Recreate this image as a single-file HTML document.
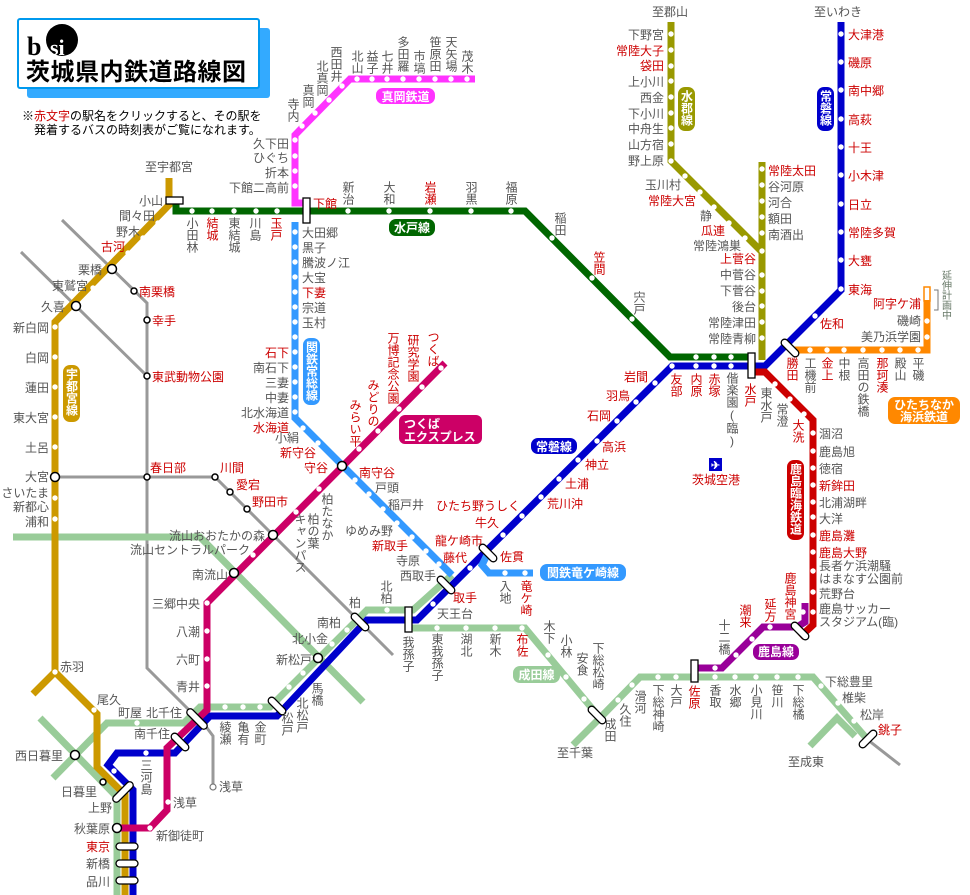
<!DOCTYPE html>
<html><head><meta charset="utf-8">
<style>
html,body{margin:0;padding:0;background:#fff;}
svg{display:block;}
text{font-family:"Liberation Sans","Noto Sans CJK JP",sans-serif;font-size:12px;fill:#555;}
.r{fill:#cc0000;}
.k{fill:#000;}
.v{writing-mode:vertical-rl;text-orientation:upright;}
.e{text-anchor:end;}
.m{text-anchor:middle;}
.w{fill:#fff;font-weight:bold;}
.ln{fill:none;stroke-width:7;stroke-linejoin:miter;}
.tr{fill:#fff;stroke:#000;stroke-width:1.3;}
.c{fill:#fff;stroke:#000;stroke-width:1.5;}
.cg{fill:#fff;stroke:#777;stroke-width:1.2;}
.d{fill:#fff;}
</style></head><body>
<svg width="970" height="895" viewBox="0 0 970 895" xmlns="http://www.w3.org/2000/svg">
<!-- title -->
<rect x="27" y="28" width="243" height="70" rx="3" fill="#33aaff"/>
<rect x="18" y="19" width="241" height="69" rx="2" fill="#fff" stroke="#0099ee" stroke-width="2"/>
<text x="27" y="55" class="k" style="font-family:'Liberation Serif',serif;font-size:26px;font-weight:bold">b</text>
<circle cx="62" cy="40" r="16" fill="#000"/>
<text x="50" y="55" style="font-family:'Liberation Serif',serif;font-size:22px;font-weight:bold;fill:#fff">si</text>
<text x="26" y="80" class="k" style="font-size:24px;font-weight:bold;letter-spacing:0.5px">茨城県内鉄道路線図</text>
<text x="22" y="120" class="k" style="font-size:12px">※<tspan class="r">赤文字</tspan>の駅名をクリックすると、その駅を</text>
<text x="34" y="134" class="k" style="font-size:12px">発着するバスの時刻表がご覧になれます。</text>

<!-- gray Tobu lines -->
<g fill="none" stroke="#999" stroke-width="3">
<path d="M62,220 L147,303 L147,668 L207,728 L213,736 L213,787"/>
<path d="M21,252 L147,376"/>
<path d="M55,477 L215,477 L393,655"/>
<path d="M868,740 L900,765"/>
</g>
<!-- light green lines -->
<g class="ln" stroke="#99cc99">
<path d="M13,537 L200,537 L363,702"/>
<path d="M452,575 L413,610 L367,610 L270,707 L200,707 L184,723 L107,723 L53,778"/>
<path d="M40,718 L117,797 L117,895"/>
<path d="M408,628 L525,628 L600,718 L573,745"/>
<path d="M600,718 L640,677 L813,677 L868,740"/>
<path d="M810,746 L837,718 L855,736"/>
</g>
<!-- Utsunomiya -->
<g class="ln" stroke="#cc9900">
<path d="M169,178 L169,205 L55,322 L55,672 L97,714 L97,767 L125,795 L125,895"/>
<path d="M55,672 L33,694"/>
</g>
<!-- Joban -->
<path class="ln" stroke="#0000cc" d="M133,895 L133,790 L108,765 L117,753 L175,753 L210,716 L277,716 L367,620 L417,620 L672,366 L765,366 L841,290 L841,22"/>
<!-- Mito -->
<path class="ln" stroke="#006600" d="M176,200 L176,211 L525,211 L670,357 L752,357"/>
<!-- Suigun -->
<g class="ln" stroke="#999900">
<path d="M671,22 L671,161 L762,252"/>
<path d="M762,162 L762,360"/>
</g>
<!-- Moka -->
<path class="ln" stroke="#ff33ff" d="M307,203 L295,203 L295,135 L350,79 L475,79"/>
<!-- Joso -->
<path class="ln" stroke="#3399ff" d="M295,222 L295,418 L452,575"/>
<path class="ln" stroke="#3399ff" d="M488,553 L482,565 L489,573 L533,573"/>
<!-- TX -->
<path class="ln" stroke="#cc0066" d="M445,363 L207,603 L207,710 L167,748 L167,810 L150,828 L117,828"/>
<!-- Kashima rinkai -->
<path class="ln" stroke="#cc0000" d="M752,372 L765,372 L813,420 L813,625 L800,637"/>
<!-- Kashima line -->
<path class="ln" stroke="#990099" d="M805,603 L805,622 L797,627 L763,627 L722,668 L694,668"/>
<!-- Hitachinaka -->
<path class="ln" stroke="#ff8800" d="M790,350 L927,350 L927,300"/>
<rect x="924" y="287" width="6" height="14" fill="none" stroke="#ff8800" stroke-width="1.5"/>
<path d="M934,290 L938,290 L938,310 L934,310" fill="none" stroke="#777" stroke-width="1"/>

<!-- dots -->
<g class="d">
<circle cx="192" cy="211" r="2.7"/><circle cx="212" cy="211" r="2.7"/><circle cx="234" cy="211" r="2.7"/><circle cx="256" cy="211" r="2.7"/><circle cx="277" cy="211" r="2.7"/>
<circle cx="348" cy="211" r="2.7"/><circle cx="389" cy="211" r="2.7"/><circle cx="430" cy="211" r="2.7"/><circle cx="471" cy="211" r="2.7"/><circle cx="511" cy="211" r="2.7"/>
<circle cx="552" cy="238" r="2.7"/><circle cx="592" cy="278" r="2.7"/><circle cx="632" cy="319" r="2.7"/>
<circle cx="696" cy="357" r="2.7"/><circle cx="714" cy="357" r="2.7"/><circle cx="731" cy="357" r="2.7"/>
<circle cx="672" cy="366" r="2.7"/><circle cx="696" cy="366" r="2.7"/><circle cx="714" cy="366" r="2.7"/><circle cx="731" cy="366" r="2.7"/>
<circle cx="841" cy="34" r="2.7"/><circle cx="841" cy="62" r="2.7"/><circle cx="841" cy="90" r="2.7"/><circle cx="841" cy="119" r="2.7"/><circle cx="841" cy="147" r="2.7"/><circle cx="841" cy="175" r="2.7"/><circle cx="841" cy="204" r="2.7"/><circle cx="841" cy="232" r="2.7"/><circle cx="841" cy="260" r="2.7"/><circle cx="841" cy="289" r="2.7"/><circle cx="815" cy="316" r="2.7"/>
<circle cx="655" cy="383" r="2.7"/><circle cx="636" cy="402" r="2.7"/><circle cx="617" cy="421" r="2.7"/><circle cx="597" cy="441" r="2.7"/><circle cx="578" cy="460" r="2.7"/><circle cx="559" cy="479" r="2.7"/><circle cx="541" cy="497" r="2.7"/><circle cx="522" cy="516" r="2.7"/><circle cx="503" cy="535" r="2.7"/><circle cx="470" cy="568" r="2.7"/><circle cx="433" cy="604" r="2.7"/>
<circle cx="146" cy="753" r="2.7"/><circle cx="114" cy="771" r="2.7"/>
<circle cx="671" cy="34" r="2.7"/><circle cx="671" cy="50" r="2.7"/><circle cx="671" cy="66" r="2.7"/><circle cx="671" cy="81" r="2.7"/><circle cx="671" cy="97" r="2.7"/><circle cx="671" cy="113" r="2.7"/><circle cx="671" cy="128" r="2.7"/><circle cx="671" cy="144" r="2.7"/><circle cx="671" cy="161" r="2.7"/>
<circle cx="685" cy="176" r="2.7"/><circle cx="700" cy="192" r="2.7"/><circle cx="714" cy="207" r="2.7"/><circle cx="729" cy="223" r="2.7"/><circle cx="745" cy="238" r="2.7"/>
<circle cx="762" cy="169" r="2.7"/><circle cx="762" cy="185" r="2.7"/><circle cx="762" cy="201" r="2.7"/><circle cx="762" cy="217" r="2.7"/><circle cx="762" cy="233" r="2.7"/><circle cx="762" cy="251" r="2.7"/><circle cx="762" cy="275" r="2.7"/><circle cx="762" cy="291" r="2.7"/><circle cx="762" cy="306" r="2.7"/><circle cx="762" cy="322" r="2.7"/><circle cx="762" cy="338" r="2.7"/>
<circle cx="295" cy="140" r="2.7"/><circle cx="295" cy="156" r="2.7"/><circle cx="295" cy="171" r="2.7"/><circle cx="295" cy="186" r="2.7"/>
<circle cx="302" cy="126" r="2.7"/><circle cx="315" cy="113" r="2.7"/><circle cx="329" cy="100" r="2.7"/><circle cx="342" cy="86" r="2.7"/>
<circle cx="357" cy="79" r="2.7"/><circle cx="372" cy="79" r="2.7"/><circle cx="387" cy="79" r="2.7"/><circle cx="403" cy="79" r="2.7"/><circle cx="419" cy="79" r="2.7"/><circle cx="435" cy="79" r="2.7"/><circle cx="451" cy="79" r="2.7"/><circle cx="467" cy="79" r="2.7"/>
<circle cx="295" cy="232" r="2.7"/><circle cx="295" cy="247" r="2.7"/><circle cx="295" cy="262" r="2.7"/><circle cx="295" cy="277" r="2.7"/><circle cx="295" cy="292" r="2.7"/><circle cx="295" cy="307" r="2.7"/><circle cx="295" cy="322" r="2.7"/><circle cx="295" cy="337" r="2.7"/><circle cx="295" cy="352" r="2.7"/><circle cx="295" cy="367" r="2.7"/><circle cx="295" cy="382" r="2.7"/><circle cx="295" cy="397" r="2.7"/><circle cx="295" cy="412" r="2.7"/>
<circle cx="303" cy="428" r="2.7"/><circle cx="318" cy="443" r="2.7"/><circle cx="355" cy="480" r="2.7"/><circle cx="369" cy="494" r="2.7"/><circle cx="383" cy="509" r="2.7"/><circle cx="397" cy="523" r="2.7"/><circle cx="412" cy="537" r="2.7"/><circle cx="426" cy="551" r="2.7"/><circle cx="439" cy="564" r="2.7"/>
<circle cx="505" cy="573" r="2.7"/><circle cx="525" cy="573" r="2.7"/>
<circle cx="441" cy="368" r="2.7"/><circle cx="422" cy="387" r="2.7"/><circle cx="399" cy="409" r="2.7"/><circle cx="378" cy="431" r="2.7"/><circle cx="359" cy="449" r="2.7"/><circle cx="319" cy="489" r="2.7"/><circle cx="296" cy="512" r="2.7"/><circle cx="253" cy="555" r="2.7"/>
<circle cx="207" cy="603" r="2.7"/><circle cx="207" cy="631" r="2.7"/><circle cx="207" cy="659" r="2.7"/><circle cx="207" cy="686" r="2.7"/><circle cx="168" cy="802" r="2.7"/><circle cx="150" cy="828" r="2.7"/>
<circle cx="158" cy="223" r="2.7"/><circle cx="143" cy="238" r="2.7"/><circle cx="128" cy="253" r="2.7"/><circle cx="93" cy="288" r="2.7"/>
<circle cx="55" cy="327" r="2.7"/><circle cx="55" cy="357" r="2.7"/><circle cx="55" cy="387" r="2.7"/><circle cx="55" cy="417" r="2.7"/><circle cx="55" cy="447" r="2.7"/><circle cx="55" cy="498" r="2.7"/><circle cx="55" cy="519" r="2.7"/><circle cx="55" cy="672" r="2.7"/><circle cx="94" cy="710" r="2.7"/>
<circle cx="775" cy="384" r="2.7"/><circle cx="790" cy="399" r="2.7"/><circle cx="804" cy="414" r="2.7"/>
<circle cx="813" cy="433" r="2.7"/><circle cx="813" cy="451" r="2.7"/><circle cx="813" cy="468" r="2.7"/><circle cx="813" cy="485" r="2.7"/><circle cx="813" cy="502" r="2.7"/><circle cx="813" cy="517" r="2.7"/><circle cx="813" cy="535" r="2.7"/><circle cx="813" cy="552" r="2.7"/><circle cx="813" cy="571" r="2.7"/><circle cx="813" cy="592" r="2.7"/><circle cx="813" cy="612" r="2.7"/>
<circle cx="803" cy="612" r="2.7"/><circle cx="770" cy="627" r="2.7"/><circle cx="752" cy="639" r="2.7"/><circle cx="736" cy="655" r="2.7"/><circle cx="715" cy="668" r="2.7"/>
<circle cx="810" cy="350" r="2.7"/><circle cx="827" cy="350" r="2.7"/><circle cx="844" cy="350" r="2.7"/><circle cx="863" cy="350" r="2.7"/><circle cx="882" cy="350" r="2.7"/><circle cx="900" cy="350" r="2.7"/><circle cx="918" cy="350" r="2.7"/><circle cx="927" cy="337" r="2.7"/><circle cx="927" cy="321" r="2.7"/>
<circle cx="387" cy="610" r="2.7"/><circle cx="347" cy="630" r="2.7"/><circle cx="332" cy="644" r="2.7"/><circle cx="303" cy="673" r="2.7"/><circle cx="289" cy="687" r="2.7"/><circle cx="260" cy="707" r="2.7"/><circle cx="243" cy="707" r="2.7"/><circle cx="225" cy="707" r="2.7"/><circle cx="137" cy="723" r="2.7"/>
<circle cx="437" cy="628" r="2.7"/><circle cx="466" cy="628" r="2.7"/><circle cx="495" cy="628" r="2.7"/><circle cx="522" cy="628" r="2.7"/><circle cx="548" cy="655" r="2.7"/><circle cx="566" cy="677" r="2.7"/><circle cx="584" cy="699" r="2.7"/>
<circle cx="618" cy="700" r="2.7"/><circle cx="632" cy="685" r="2.7"/><circle cx="658" cy="677" r="2.7"/><circle cx="676" cy="677" r="2.7"/><circle cx="715" cy="677" r="2.7"/><circle cx="735" cy="677" r="2.7"/><circle cx="756" cy="677" r="2.7"/><circle cx="777" cy="677" r="2.7"/><circle cx="798" cy="677" r="2.7"/>
<circle cx="821" cy="686" r="2.7"/><circle cx="838" cy="703" r="2.7"/><circle cx="854" cy="721" r="2.7"/>
</g>

<!-- transfer markers -->
<rect x="166" y="197" width="17" height="7" class="tr"/>
<rect x="303" y="198" width="7" height="25" class="tr"/>
<rect x="748" y="353" width="7" height="25" class="tr"/>
<rect x="405" y="607" width="7" height="25" class="tr"/>
<rect x="691" y="660" width="7" height="22" class="tr"/>
<g class="tr">
<rect x="-11" y="-3.5" width="22" height="7" rx="3.5" transform="translate(790,348) rotate(45)"/>
<rect x="-11" y="-3.5" width="22" height="7" rx="3.5" transform="translate(800,631) rotate(45)"/>
<rect x="-11" y="-3.5" width="22" height="7" rx="3.5" transform="translate(488,553) rotate(45)"/>
<rect x="-11" y="-3.5" width="22" height="7" rx="3.5" transform="translate(446,585) rotate(45)"/>
<rect x="-11" y="-3.5" width="22" height="7" rx="3.5" transform="translate(360,622) rotate(45)"/>
<rect x="-11" y="-3.5" width="22" height="7" rx="3.5" transform="translate(277,706) rotate(45)"/>
<rect x="-13" y="-3.5" width="26" height="7" rx="3.5" transform="translate(197,719) rotate(45)"/>
<rect x="-11" y="-3.5" width="22" height="7" rx="3.5" transform="translate(180,742) rotate(45)"/>
<rect x="-13" y="-3.5" width="26" height="7" rx="3.5" transform="translate(123,792) rotate(-45)"/>
<rect x="-11" y="-3.5" width="22" height="7" rx="3.5" transform="translate(597,715) rotate(45)"/>
<rect x="-11" y="-3.5" width="22" height="7" rx="3.5" transform="translate(868,739) rotate(-45)"/>
<rect x="116" y="843" width="22" height="7" rx="3.5"/>
<rect x="116" y="860" width="22" height="7" rx="3.5"/>
<rect x="116" y="877" width="22" height="7" rx="3.5"/>
</g>
<circle cx="112" cy="269" r="4.5" class="c"/><circle cx="76" cy="306" r="4.5" class="c"/><circle cx="55" cy="477" r="4.5" class="c"/>
<circle cx="342" cy="466" r="4.5" class="c"/><circle cx="273" cy="535" r="4.5" class="c"/><circle cx="234" cy="573" r="4.5" class="c"/>
<circle cx="318" cy="658" r="4.5" class="c"/><circle cx="75" cy="755" r="4.5" class="c"/><circle cx="117" cy="828" r="4.5" class="c"/>
<circle cx="134" cy="291" r="3" class="c"/><circle cx="147" cy="320" r="3" class="c"/><circle cx="147" cy="376" r="3" class="c"/><circle cx="147" cy="477" r="3" class="c"/><circle cx="215" cy="477" r="3" class="c"/><circle cx="230" cy="492" r="3" class="c"/><circle cx="247" cy="509" r="3" class="c"/><circle cx="103" cy="782" r="3" class="c"/><circle cx="213" cy="787" r="3" class="cg"/>

<!-- badges -->
<rect x="376" y="88" width="59" height="16" rx="7" fill="#ff33ff"/><text x="405.5" y="101" class="w m">真岡鉄道</text>
<rect x="389" y="219" width="46" height="17" rx="7" fill="#006600"/><text x="412" y="232" class="w m">水戸線</text>
<rect x="678" y="87" width="17" height="44" rx="7" fill="#999900"/><text x="686.5" y="90" class="w v">水郡線</text>
<rect x="817" y="87" width="17" height="44" rx="7" fill="#0000cc"/><text x="825.5" y="90" class="w v">常磐線</text>
<rect x="303" y="338" width="17" height="67" rx="7" fill="#3399ff"/><text x="311.5" y="341" class="w v">関鉄常総線</text>
<rect x="63" y="365" width="17" height="57" rx="7" fill="#cc9900"/><text x="71.5" y="368" class="w v">宇都宮線</text>
<rect x="399" y="415" width="83" height="29" rx="6" fill="#cc0066"/><text x="404" y="428" class="w">つくば</text><text x="404" y="441" class="w">エクスプレス</text>
<rect x="531" y="438" width="46" height="16" rx="7" fill="#0000cc"/><text x="554" y="451" class="w m">常磐線</text>
<rect x="540" y="564" width="86" height="17" rx="7" fill="#3399ff"/><text x="583" y="577" class="w m">関鉄竜ケ崎線</text>
<rect x="787" y="460" width="17" height="80" rx="7" fill="#cc0000"/><text x="795.5" y="463" class="w v">鹿島臨海鉄道</text>
<rect x="888" y="397" width="72" height="27" rx="7" fill="#ff8800"/><text x="924" y="409" class="w m">ひたちなか</text><text x="924" y="421" class="w m">海浜鉄道</text>
<rect x="753" y="644" width="46" height="16" rx="7" fill="#990099"/><text x="776" y="656" class="w m">鹿島線</text>
<rect x="513" y="666" width="47" height="17" rx="7" fill="#99cc99"/><text x="536.5" y="679" class="w m">成田線</text>
<rect x="709" y="458" width="13" height="13" fill="#0000cc"/><text x="715.5" y="469" class="w m" style="font-size:11px">✈</text>
<text x="716" y="484" class="r m">茨城空港</text>

<text x="169" y="171" class="m">至宇都宮</text>
<text x="163" y="205" class="e">小山</text>
<text x="155" y="220" class="e">間々田</text>
<text x="140" y="236" class="e">野木</text>
<text x="125" y="251" class="e r">古河</text>
<text x="102" y="274" class="e">栗橋</text>
<text x="88" y="290" class="e">東鷲宮</text>
<text x="65" y="311" class="e">久喜</text>
<text x="139" y="296" class="r">南栗橋</text>
<text x="152" y="325" class="r">幸手</text>
<text x="152" y="381" class="r">東武動物公園</text>
<text x="49" y="332" class="e">新白岡</text>
<text x="49" y="362" class="e">白岡</text>
<text x="49" y="392" class="e">蓮田</text>
<text x="49" y="422" class="e">東大宮</text>
<text x="49" y="452" class="e">土呂</text>
<text x="49" y="481" class="e">大宮</text>
<text x="49" y="497" class="e">さいたま</text>
<text x="49" y="511" class="e">新都心</text>
<text x="49" y="526" class="e">浦和</text>
<text x="150" y="472" class="r">春日部</text>
<text x="220" y="472" class="r">川間</text>
<text x="236" y="489" class="r">愛宕</text>
<text x="252" y="506" class="r">野田市</text>
<text x="265" y="540" class="e">流山おおたかの森</text>
<text x="250" y="554" class="e">流山セントラルパーク</text>
<text x="228" y="579" class="e">南流山</text>
<text x="327" y="493" class="v">柏たなか</text>
<text x="313" y="513" class="v">柏の葉</text>
<text x="300" y="513" class="v">キャンパス</text>
<text x="293" y="98" class="v">寺内</text>
<text x="308" y="84" class="v">真岡</text>
<text x="322" y="60" class="v">北真岡</text>
<text x="336" y="46" class="v">西田井</text>
<text x="357" y="50" class="v">北山</text>
<text x="372" y="50" class="v">益子</text>
<text x="387" y="50" class="v">七井</text>
<text x="403" y="36" class="v">多田羅</text>
<text x="419" y="50" class="v">市塙</text>
<text x="435" y="36" class="v">笹原田</text>
<text x="451" y="36" class="v">天矢場</text>
<text x="467" y="50" class="v">茂木</text>
<text x="289" y="148" class="e">久下田</text>
<text x="289" y="162" class="e">ひぐち</text>
<text x="289" y="177" class="e">折本</text>
<text x="289" y="192" class="e">下館二高前</text>
<text x="313" y="208" class="r">下館</text>
<text x="348" y="181" class="v">新治</text>
<text x="389" y="181" class="v">大和</text>
<text x="430" y="181" class="v r">岩瀬</text>
<text x="471" y="181" class="v">羽黒</text>
<text x="511" y="181" class="v">福原</text>
<text x="560" y="212" class="v">稲田</text>
<text x="599" y="251" class="v r">笠間</text>
<text x="639" y="291" class="v">宍戸</text>
<text x="192" y="217" class="v">小田林</text>
<text x="212" y="217" class="v r">結城</text>
<text x="234" y="217" class="v">東結城</text>
<text x="255" y="217" class="v">川島</text>
<text x="276" y="217" class="v r">玉戸</text>
<text x="302" y="237">大田郷</text>
<text x="302" y="252">黒子</text>
<text x="302" y="267">騰波ノ江</text>
<text x="302" y="282">大宝</text>
<text x="302" y="297" class="r">下妻</text>
<text x="302" y="312">宗道</text>
<text x="302" y="327">玉村</text>
<text x="289" y="357" class="e r">石下</text>
<text x="289" y="372" class="e">南石下</text>
<text x="289" y="387" class="e">三妻</text>
<text x="289" y="402" class="e">中妻</text>
<text x="289" y="417" class="e">北水海道</text>
<text x="289" y="432" class="e r">水海道</text>
<text x="299" y="442" class="e">小絹</text>
<text x="316" y="457" class="e r">新守谷</text>
<text x="328" y="472" class="e r">守谷</text>
<text x="359" y="477" class="r">南守谷</text>
<text x="375" y="492">戸頭</text>
<text x="388" y="509">稲戸井</text>
<text x="393" y="535" class="e">ゆめみ野</text>
<text x="408" y="550" class="e r">新取手</text>
<text x="420" y="565" class="e">寺原</text>
<text x="436" y="580" class="e">西取手</text>
<text x="433" y="331" class="v r">つくば</text>
<text x="413" y="334" class="v r">研究学園</text>
<text x="393" y="332" class="v r">万博記念公園</text>
<text x="373" y="379" class="v r">みどりの</text>
<text x="355" y="399" class="v r">みらい平</text>
<text x="648" y="381" class="e r">岩間</text>
<text x="630" y="400" class="e r">羽鳥</text>
<text x="611" y="420" class="e r">石岡</text>
<text x="602" y="451" class="r">高浜</text>
<text x="585" y="469" class="r">神立</text>
<text x="565" y="488" class="r">土浦</text>
<text x="547" y="508" class="r">荒川沖</text>
<text x="520" y="510" class="e r">ひたち野うしく</text>
<text x="499" y="527" class="e r">牛久</text>
<text x="483" y="545" class="e r">龍ケ崎市</text>
<text x="467" y="562" class="e r">藤代</text>
<text x="500" y="561" class="r">佐貫</text>
<text x="453" y="602" class="r">取手</text>
<text x="437" y="618">天王台</text>
<text x="505" y="580" class="v">入地</text>
<text x="526" y="580" class="v r">竜ケ崎</text>
<text x="848" y="39" class="r">大津港</text>
<text x="848" y="67" class="r">磯原</text>
<text x="848" y="95" class="r">南中郷</text>
<text x="848" y="124" class="r">高萩</text>
<text x="848" y="152" class="r">十王</text>
<text x="848" y="180" class="r">小木津</text>
<text x="848" y="209" class="r">日立</text>
<text x="848" y="237" class="r">常陸多賀</text>
<text x="848" y="265" class="r">大甕</text>
<text x="848" y="294" class="r">東海</text>
<text x="820" y="328" class="r">佐和</text>
<text x="838" y="16" class="m">至いわき</text>
<text x="670" y="16" class="m">至郡山</text>
<text x="664" y="39" class="e">下野宮</text>
<text x="664" y="55" class="e r">常陸大子</text>
<text x="664" y="70" class="e r">袋田</text>
<text x="664" y="86" class="e">上小川</text>
<text x="664" y="102" class="e">西金</text>
<text x="664" y="118" class="e">下小川</text>
<text x="664" y="133" class="e">中舟生</text>
<text x="664" y="149" class="e">山方宿</text>
<text x="664" y="165" class="e">野上原</text>
<text x="681" y="189" class="e">玉川村</text>
<text x="696" y="205" class="e r">常陸大宮</text>
<text x="712" y="220" class="e">静</text>
<text x="725" y="235" class="e r">瓜連</text>
<text x="741" y="250" class="e">常陸鴻巣</text>
<text x="768" y="175" class="r">常陸太田</text>
<text x="768" y="191">谷河原</text>
<text x="768" y="207">河合</text>
<text x="768" y="223">額田</text>
<text x="768" y="239">南酒出</text>
<text x="756" y="263" class="e r">上菅谷</text>
<text x="756" y="279" class="e">中菅谷</text>
<text x="756" y="295" class="e">下菅谷</text>
<text x="756" y="311" class="e">後台</text>
<text x="756" y="327" class="e">常陸津田</text>
<text x="756" y="343" class="e">常陸青柳</text>
<text x="676" y="373" class="v r">友部</text>
<text x="696" y="373" class="v r">内原</text>
<text x="714" y="373" class="v r">赤塚</text>
<text x="732" y="372" class="v">偕楽園(臨)</text>
<text x="750" y="383" class="v r">水戸</text>
<text x="766" y="387" class="v">東水戸</text>
<text x="782" y="403" class="v">常澄</text>
<text x="798" y="419" class="v r">大洗</text>
<text x="792" y="357" class="v r">勝田</text>
<text x="810" y="357" class="v">工機前</text>
<text x="827" y="357" class="v r">金上</text>
<text x="844" y="357" class="v">中根</text>
<text x="863" y="357" class="v">高田の鉄橋</text>
<text x="882" y="357" class="v r">那珂湊</text>
<text x="900" y="357" class="v">殿山</text>
<text x="918" y="357" class="v">平磯</text>
<text x="921" y="308" class="e r">阿字ケ浦</text>
<text x="921" y="325" class="e">磯崎</text>
<text x="921" y="341" class="e">美乃浜学園</text>
<text x="945" y="270" class="v" style="font-size:10px;fill:#667766">延伸計画中</text>
<text x="819" y="438">涸沼</text>
<text x="819" y="456">鹿島旭</text>
<text x="819" y="473">徳宿</text>
<text x="819" y="490" class="r">新鉾田</text>
<text x="819" y="507">北浦湖畔</text>
<text x="819" y="523">大洋</text>
<text x="819" y="540" class="r">鹿島灘</text>
<text x="819" y="557" class="r">鹿島大野</text>
<text x="819" y="570">長者ケ浜潮騒</text>
<text x="819" y="583">はまなす公園前</text>
<text x="819" y="598">荒野台</text>
<text x="819" y="613">鹿島サッカー</text>
<text x="819" y="626">スタジアム(臨)</text>
<text x="790" y="572" class="v r">鹿島神宮</text>
<text x="770" y="598" class="v r">延方</text>
<text x="745" y="604" class="v r">潮来</text>
<text x="724" y="619" class="v">十二橋</text>
<text x="408" y="636" class="v">我孫子</text>
<text x="437" y="633" class="v">東我孫子</text>
<text x="466" y="633" class="v">湖北</text>
<text x="495" y="633" class="v">新木</text>
<text x="522" y="633" class="v r">布佐</text>
<text x="549" y="620" class="v">木下</text>
<text x="566" y="634" class="v">小林</text>
<text x="582" y="652" class="v">安食</text>
<text x="598" y="642" class="v">下総松崎</text>
<text x="610" y="718" class="v">成田</text>
<text x="625" y="703" class="v">久住</text>
<text x="640" y="690" class="v">滑河</text>
<text x="658" y="684" class="v">下総神崎</text>
<text x="676" y="684" class="v">大戸</text>
<text x="694" y="685" class="v r">佐原</text>
<text x="715" y="684" class="v">香取</text>
<text x="735" y="684" class="v">水郷</text>
<text x="756" y="684" class="v">小見川</text>
<text x="777" y="684" class="v">笹川</text>
<text x="798" y="684" class="v">下総橘</text>
<text x="825" y="686">下総豊里</text>
<text x="842" y="702">椎柴</text>
<text x="860" y="719">松岸</text>
<text x="878" y="734" class="r">銚子</text>
<text x="806" y="766" class="m">至成東</text>
<text x="575" y="757" class="m">至千葉</text>
<text x="355" y="607" class="m">柏</text>
<text x="386" y="580" class="v">北柏</text>
<text x="341" y="627" class="e">南柏</text>
<text x="328" y="643" class="e">北小金</text>
<text x="312" y="664" class="e">新松戸</text>
<text x="317" y="682" class="v">馬橋</text>
<text x="302" y="697" class="v">北松戸</text>
<text x="287" y="712" class="v">松戸</text>
<text x="260" y="721" class="v">金町</text>
<text x="243" y="721" class="v">亀有</text>
<text x="225" y="721" class="v">綾瀬</text>
<text x="200" y="608" class="e">三郷中央</text>
<text x="200" y="636" class="e">八潮</text>
<text x="200" y="664" class="e">六町</text>
<text x="200" y="691" class="e">青井</text>
<text x="60" y="671">赤羽</text>
<text x="97" y="704">尾久</text>
<text x="142" y="717" class="e">町屋</text>
<text x="182" y="717" class="e">北千住</text>
<text x="170" y="738" class="e">南千住</text>
<text x="63" y="760" class="e">西日暮里</text>
<text x="97" y="796" class="e">日暮里</text>
<text x="112" y="812" class="e">上野</text>
<text x="110" y="833" class="e">秋葉原</text>
<text x="110" y="851" class="e r">東京</text>
<text x="110" y="868" class="e">新橋</text>
<text x="110" y="886" class="e">品川</text>
<text x="146" y="759" class="v">三河島</text>
<text x="173" y="807">浅草</text>
<text x="156" y="840">新御徒町</text>
<text x="219" y="791">浅草</text>
</svg>
</body></html>
